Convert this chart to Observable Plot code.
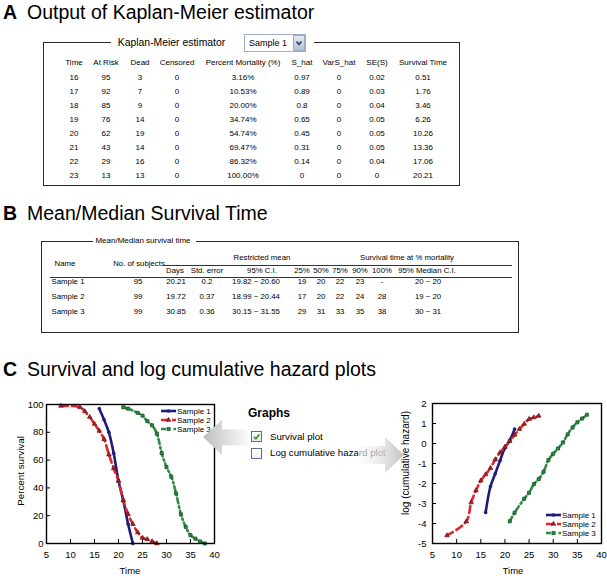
<!DOCTYPE html>
<html><head><meta charset="utf-8">
<script src="https://cdn.jsdelivr.net/npm/d3@7"></script>
<script src="https://cdn.jsdelivr.net/npm/@observablehq/plot@0.6"></script>
<style>
html,body{margin:0;padding:0;background:#fff;}
#root{position:relative;width:607px;height:578px;overflow:hidden;font-family:"Liberation Sans",Arial,sans-serif;color:#000;background:#fff;}
.t{position:absolute;white-space:nowrap;line-height:1;}
.box{position:absolute;border:1.5px solid #2a2a2a;box-sizing:border-box;}
.abs{position:absolute;}
</style></head><body><div id="root"></div>
<script>
// ---------- Panel A: Kaplan-Meier table (Sample 1) ----------
const headersA = ["Time","At Risk","Dead","Censored","Percent Mortality (%)","S_hat","VarS_hat","SE(S)","Survival Time"];
const timeA = ["16","17","18","19","20","21","22","23"];
const atRisk = ["95","92","85","76","62","43","29","13"];
const dead = ["3","7","9","14","19","14","16","13"];
const censored = ["0","0","0","0","0","0","0","0"];
const pctMortality = ["3.16%","10.53%","20.00%","34.74%","54.74%","69.47%","86.32%","100.00%"];
const sHat = ["0.97","0.89","0.8","0.65","0.45","0.31","0.14","0"];
const varSHat = ["0","0","0","0","0","0","0","0"];
const seS = ["0.02","0.03","0.04","0.05","0.05","0.05","0.04","0"];
const survivalTime = ["0.51","1.76","3.46","6.26","10.26","13.36","17.06","20.21"];

// ---------- Panel B: Mean/Median table ----------
const groupHeadersB = ["Restricted mean","Survival time at % mortality"];
const subHeadersB = ["Days","Std. error","95% C.I.","25%","50%","75%","90%","100%","95% Median C.I."];
const sampleNames = ["Sample 1","Sample 2","Sample 3"];
const nSubjects = ["95","99","99"];
const meanDays = ["20.21","19.72","30.85"];
const stdError = ["0.2","0.37","0.36"];
const meanCI = ["19.82 ~ 20.60","18.99 ~ 20.44","30.15 ~ 31.55"];
const mort25 = ["19","17","29"];
const mort50 = ["20","20","31"];
const mort75 = ["22","22","33"];
const mort90 = ["23","24","35"];
const mort100 = ["-","28","38"];
const medianCI = ["20 ~ 20","19 ~ 20","30 ~ 31"];

// ---------- Panel C: plots ----------
const xTicks = [5,10,15,20,25,30,35,40];
const survTicks = [0,20,40,60,80,100];
const hazTicks = [-5,-4,-3,-2,-1,0,1,2];

const s1SurvTime = [16,17,18,19,20,21,22,23];
const s1Surv = [97,89,80,65,45,31,14,0];
const s2SurvTime = [8,12,13,14,15,16,17,18,19,20,21,22,23,24,25,26,27,28];
const s2Surv = [99,98,95,91,86,81,75,64,54,45,31,21,14,8,4,3,1.5,0];
const s3SurvTime = [21,22,24,25,26,27,28,29,30,31,32,33,34,35,36,37,38];
const s3Surv = [98,97,94,92,88,85,79,65,55,48,36,21,12,6,3.5,1.5,0];

const s1HazTime = [16,17,18,19,20,21,22];
const s1Haz = [-3.45,-2.15,-1.5,-0.85,-0.22,0.16,0.72];
const s2HazTime = [8,12,13,14,15,16,17,18,19,20,21,22,23,24,25,26,27];
const s2Haz = [-4.6,-3.9,-2.95,-2.35,-1.86,-1.55,-1.23,-0.8,-0.45,-0.17,0.12,0.43,0.72,0.98,1.22,1.3,1.38];
const s3HazTime = [21,22,24,25,26,27,28,29,30,31,32,33,34,35,36,37];
const s3Haz = [-3.89,-3.46,-2.76,-2.46,-2.03,-1.78,-1.41,-0.83,-0.51,-0.25,0.05,0.46,0.8,1.06,1.25,1.44];

const graphOptions = ["Survival plot","Log cumulative hazard plot"];

// ---------- styles ----------
const styles = [
  {line:"#1c1c78", dash:null, symbol:"circle", r:1.6, fill:"#1c1c78", stroke:"#1c1c78", sw:0.4},
  {line:"#e3262b", dash:"7,4", symbol:"triangle", r:1.75, fill:"#a82228", stroke:"#5a1010", sw:0.6},
  {line:"#2f8c45", dash:"5,3,1.5,3", symbol:"square", r:1.75, fill:"#2f8c45", stroke:"#0e4a1e", sw:0.7}
];
const FONT = "Liberation Sans, Arial, sans-serif";
const root = document.getElementById("root");

function T(s, x, cy, size, opt = {}) {
  const d = document.createElement("div");
  d.className = "t"; d.textContent = s;
  d.style.fontSize = size + "px";
  const baseline = opt.baseline != null ? opt.baseline : cy + 0.36 * size;
  d.style.top = (baseline - 0.8465 * size) + "px";
  d.style.left = x + "px";
  const a = opt.anchor || "middle";
  if (a === "middle") d.style.transform = "translateX(-50%)";
  else if (a === "end") d.style.transform = "translateX(-100%)";
  if (opt.bold) d.style.fontWeight = "bold";
  if (opt.color) d.style.color = opt.color;
  root.appendChild(d); return d;
}
function V(s, cx, cy, size) {
  const d = document.createElement("div");
  d.className = "t"; d.textContent = s;
  d.style.fontSize = size + "px";
  d.style.left = cx + "px"; d.style.top = cy + "px";
  d.style.transform = "translate(-50%,-50%) rotate(-90deg)";
  root.appendChild(d); return d;
}
function R(x, y, w, h, css) {
  const d = document.createElement("div");
  d.className = "abs";
  Object.assign(d.style, {left:x+"px", top:y+"px", width:w+"px", height:h+"px"}, css || {});
  root.appendChild(d); return d;
}

// ---------- section titles ----------
function sectionTitle(letter, title, baseline) {
  T(letter, 3, 0, 19.5, {baseline, anchor:"start", bold:true});
  T(title, 27, 0, 19.5, {baseline, anchor:"start"});
}
sectionTitle("A", "Output of Kaplan-Meier estimator", 19.5);
sectionTitle("B", "Mean/Median Survival Time", 220.5);
sectionTitle("C", "Survival and log cumulative hazard plots", 377);

// ---------- Panel A ----------
const boxA = R(43, 42, 417, 144); boxA.className = "box";
R(111, 38, 203, 9, {background:"#fff"});
T("Kaplan-Meier estimator", 171.5, 43, 10.4);
// select widget
R(244, 34, 62, 18, {border:"1px solid #9fb0c4", background:"#fff", boxSizing:"border-box"});
T("Sample 1", 249, 43.5, 9, {anchor:"start"});
const btn = R(293, 35, 12, 16, {background:"linear-gradient(#e4eaf3,#b3c1d6)", border:"1px solid #98a9c1", boxSizing:"border-box"});
btn.innerHTML = '<svg width="10" height="14" style="position:absolute;left:0;top:0"><path d="M2.5,5.5 L5,8.5 L7.5,5.5" fill="none" stroke="#2a3f6e" stroke-width="1.6"/></svg>';

const xA = [74,106,140,177,243,302,339,377,423];
const colsA = [timeA, atRisk, dead, censored, pctMortality, sHat, varSHat, seS, survivalTime];
headersA.forEach((h, j) => T(h, xA[j], 63.3, 8));
colsA.forEach((col, j) => col.forEach((v, i) => T(v, xA[j], 77.7 + 14 * i, 8)));

// ---------- Panel B ----------
const FB = 7.8;
const boxB = R(41, 241, 478, 92); boxB.className = "box";
R(93, 236, 103, 10, {background:"#fff"});
T("Mean/Median survival time", 143, 241, 8);
T(groupHeadersB[0], 262, 258, FB);
T(groupHeadersB[1], 407, 258, FB);
T("Name", 65, 264, FB);
T("No. of subjects", 139, 264, FB);
R(163, 264.5, 349, 1, {background:"#333"});
const xB = [175,207,262,302,321,340,360,382,427];
subHeadersB.forEach((h, j) => T(h, xB[j], 271, FB));
R(50, 276.5, 462, 1, {background:"#333"});
const colsB = [sampleNames, nSubjects, meanDays, stdError, meanCI, mort25, mort50, mort75, mort90, mort100, medianCI];
const xRowB = [68,138,176,207,256,302,321,340,360,382,428];
colsB.forEach((col, j) => col.forEach((v, i) => T(v, xRowB[j], 281.5 + 15 * i, FB)));

// ---------- Panel C plots ----------
function rows(times, vals) { return times.map((t, i) => ({t, v: vals[i]})); }
const survData = [rows(s1SurvTime, s1Surv), rows(s2SurvTime, s2Surv), rows(s3SurvTime, s3Surv)];
const hazData = [rows(s1HazTime, s1Haz), rows(s2HazTime, s2Haz), rows(s3HazTime, s3Haz)];

function seriesMarks(datasets) {
  const m = [];
  datasets.forEach((d, k) => {
    const s = styles[k];
    m.push(Plot.line(d, {x:"t", y:"v", stroke:s.line, strokeWidth:2.6, strokeDasharray:s.dash || undefined, curve:"catmull-rom"}));
  });
  datasets.forEach((d, k) => {
    const s = styles[k];
    m.push(Plot.dot(d, {x:"t", y:"v", symbol:s.symbol, r:s.r, fill:s.fill, stroke:s.stroke, strokeWidth:s.sw}));
  });
  return m;
}

function makePlot({width, height, ml, mr, mt, mb, yDomain, yTicks, padY, datasets}) {
  const fw = width - ml - mr, fh = height - mt - mb;
  return Plot.plot({
    width, height, marginLeft:ml, marginRight:mr, marginTop:mt, marginBottom:mb,
    style:{fontFamily:FONT, fontSize:"9.5px", background:"transparent", overflow:"visible"},
    x:{domain:[5,40]}, y:{domain:yDomain},
    marks:[
      Plot.axisX({ticks:xTicks, tickSize:0, tickPadding:8, label:null, tickFormat:d => String(d)}),
      Plot.axisY({ticks:yTicks, tickSize:0, tickPadding:padY, label:null, tickFormat:d => String(d)}),
      Plot.tickX(xTicks, {x:d => d, insetTop:fh - 4, stroke:"#000"}),
      Plot.tickY(yTicks, {y:d => d, insetRight:fw - 4, stroke:"#000"}),
      ...seriesMarks(datasets),
      Plot.frame({stroke:"#000", strokeWidth:1.4})
    ]
  });
}

const p1 = makePlot({width:225, height:170, ml:46, mr:11, mt:9, mb:22, yDomain:[0,100], yTicks:survTicks, padY:3, datasets:survData});
Object.assign(p1.style, {position:"absolute", left:"0px", top:"395px"});
root.appendChild(p1);
const p2 = makePlot({width:227, height:171, ml:52, mr:6, mt:9, mb:22, yDomain:[-5,2], yTicks:hazTicks, padY:6, datasets:hazData});
Object.assign(p2.style, {position:"absolute", left:"380px", top:"394px"});
root.appendChild(p2);

V("Percent survival", 21, 471, 9.8);
T("Time", 130, 571, 9.5);
V("log (cumulative hazard)", 406, 463, 10);
T("Time", 513, 571, 9.5);

// legends
function legend(left, top) {
  const svg = d3.create("svg").attr("width", 70).attr("height", 32)
    .style("position","absolute").style("left", left + "px").style("top", top + "px").style("overflow","visible");
  sampleNames.forEach((n, i) => {
    const s = styles[i], y = 7 + 9 * i;
    svg.append("line").attr("x1", 6).attr("x2", 21).attr("y1", y).attr("y2", y)
      .attr("stroke", s.line).attr("stroke-width", 2.6).attr("stroke-dasharray", s.dash);
    const type = s.symbol === "circle" ? d3.symbolCircle : s.symbol === "triangle" ? d3.symbolTriangle : d3.symbolSquare;
    svg.append("path").attr("d", d3.symbol().type(type).size(s.r * s.r * Math.PI)())
      .attr("transform", `translate(13.5,${y})`).attr("fill", s.fill).attr("stroke", s.stroke).attr("stroke-width", s.sw);
    svg.append("text").attr("x", 22).attr("y", y + 3).attr("font-family", FONT).attr("font-size", 8).text(n);
  });
  root.appendChild(svg.node());
}
legend(155, 404);
legend(540, 508);

// Graphs panel
T("Graphs", 248, 0, 12, {baseline:417, anchor:"start", bold:true});
const cb1 = R(251, 431, 11, 11, {border:"1px solid #5b708e", background:"linear-gradient(#ffffff,#e3e9f1)", boxSizing:"border-box"});
cb1.innerHTML = '<svg width="11" height="11" style="position:absolute;left:-1px;top:-1px"><path d="M3,5.8 L4.9,7.8 L8.4,3.4" fill="none" stroke="#3c9a22" stroke-width="1.7"/></svg>';
R(251, 448, 11, 11, {border:"1px solid #5b708e", background:"linear-gradient(#ffffff,#eef2f7)", boxSizing:"border-box"});
T(graphOptions[0], 270, 436.5, 9.7, {anchor:"start"});
T(graphOptions[1], 270, 453, 9.7, {anchor:"start"});

// arrows
const arr = d3.create("svg").attr("width", 607).attr("height", 578)
  .style("position","absolute").style("left","0px").style("top","0px").style("pointer-events","none");
const defs = arr.append("defs");
const gL = defs.append("linearGradient").attr("id","gL").attr("x1",0).attr("x2",1).attr("y1",0).attr("y2",0);
gL.append("stop").attr("offset","0%").attr("stop-color","#bfbfbf");
gL.append("stop").attr("offset","100%").attr("stop-color","#fafafa");
const gR = defs.append("linearGradient").attr("id","gR").attr("x1",0).attr("x2",1).attr("y1",0).attr("y2",0);
gR.append("stop").attr("offset","0%").attr("stop-color","#ffffff").attr("stop-opacity",0.55);
gR.append("stop").attr("offset","100%").attr("stop-color","#c2c2c2").attr("stop-opacity",1);
arr.append("path").attr("d","M203,437 L222,420 L222,429.5 L248,429.5 L248,445.5 L222,445.5 L222,455 Z").attr("fill","url(#gL)");
arr.append("path").attr("d","M358,446 L385,446 L385,437 L404,455 L385,473 L385,464 L358,464 Z").attr("fill","url(#gR)");
root.appendChild(arr.node());
</script></body></html>
